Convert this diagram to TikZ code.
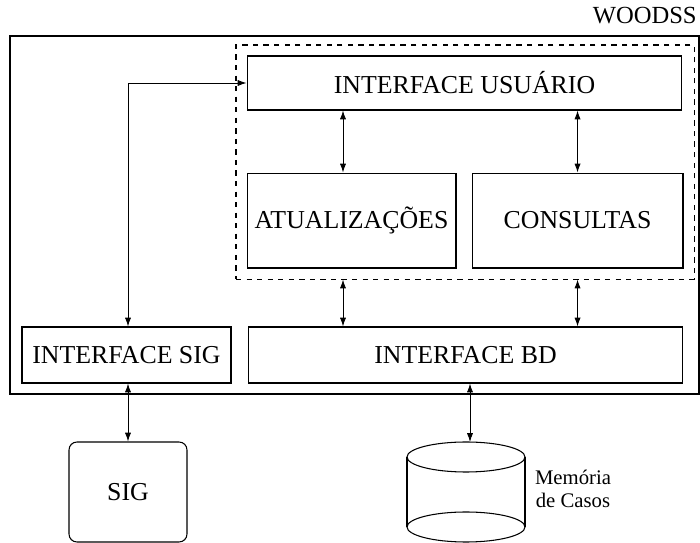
\documentclass[tikz,border=0pt]{standalone}
\usepackage{fontspec}
\setmainfont{Liberation Serif}
\usepackage{tikz}
\usetikzlibrary{positioning}
\usetikzlibrary{fit}
\usetikzlibrary{arrows.meta}
\tikzstyle{box}=[draw, rectangle, inner sep=0pt, line width=0.6pt, font=\fontsize{14.7}{16}\selectfont]
\tikzstyle{link}=[<->, >={Latex[length=5pt,width=3.5pt]}, line width=0.5pt]

\begin{document}
\begin{tikzpicture}[x=0.02cm, y=-0.02cm]
            \useasboundingbox (0,0) rectangle (700,543);

            \node[draw, line width=0.8pt, minimum width=13.78cm, minimum height=7.16cm] (sistema) at (354.5,215) {};
            \node[anchor=base east, inner sep=0pt, font=\fontsize{14}{16}\selectfont] (woodss) at (697,24) {WOODSS};

            \node[box, minimum width=8.7cm, minimum height=1.08cm] (usuario) at (464.5,83) {INTERFACE USUÁRIO};
            \node[box, minimum width=4.18cm, minimum height=1.9cm, below right=1.24cm and 0cm of usuario.south west] (atual) {ATUALIZAÇÕES};
            \node[box, minimum width=4.22cm, minimum height=1.9cm, right=0.3cm of atual] (consult) {CONSULTAS};
            \node[draw, dashed, line width=0.6pt, inner sep=0.21cm, fit=(usuario)(atual)(consult)] (grp) {};

            \node[box, minimum width=4.18cm, minimum height=1.12cm] (isig) at (126.5,355) {INTERFACE SIG};
            \node[box, minimum width=8.7cm, minimum height=1.12cm, right=0.32cm of isig] (ibd) {INTERFACE BD};

            \node[box, rounded corners=4.5pt, minimum width=2.36cm, minimum height=2cm] (sig) at (128,492) {SIG};

            % cylinder for the case memory
            \draw[line width=0.6pt] (407,457) -- (407,527) (525,457) -- (525,527);
            \draw[line width=0.6pt] (466,457) ellipse [x radius=1.18cm, y radius=0.3cm];
            \draw[line width=0.6pt] (466,527) ellipse [x radius=1.18cm, y radius=0.3cm];
            \coordinate (memtop) at (470,442);
            \node[align=center, inner sep=0pt, font=\fontsize{11.8}{13}\selectfont] (memlabel) at (573,489) {Memória\\de Casos};

            \coordinate (a1) at (343,0);
            \draw[link] (usuario.south -| a1) -- (atual.north -| a1);
            \draw[link] (consult.north |- usuario.south) -- (consult.north);
            \draw[link] (grp.south -| a1) -- (ibd.north -| a1);
            \draw[link] (grp.south -| consult) -- (ibd.north -| consult);
            \draw[link] (isig.north -| sig) |- (usuario.west);
            \draw[link] (isig.south -| sig) -- (sig.north);
            \draw[link] (ibd.south -| memtop) -- (memtop);
        \end{tikzpicture}
\end{document}
